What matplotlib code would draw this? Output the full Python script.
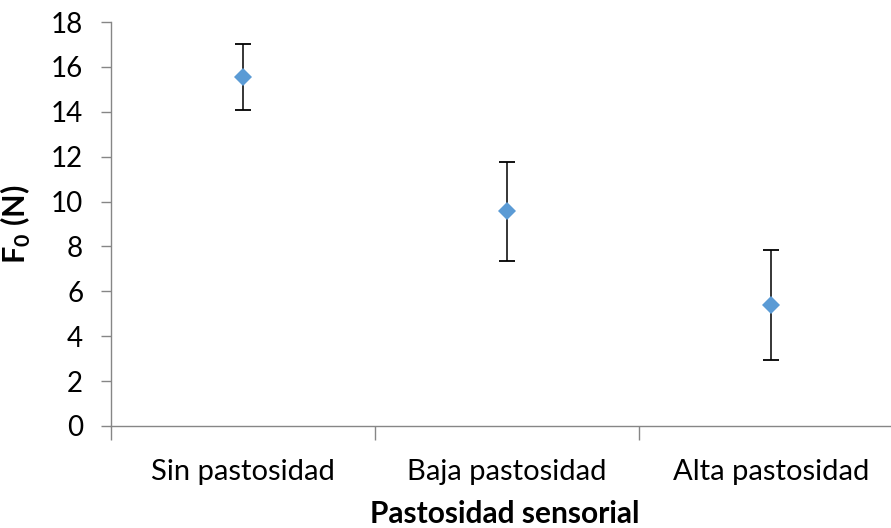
import matplotlib
matplotlib.use("Agg")
import matplotlib.pyplot as plt

plt.rcParams["font.family"] = ["Lato", "DejaVu Sans"]
plt.rcParams["mathtext.fontset"] = "custom"
plt.rcParams["mathtext.rm"] = "Lato:weight=bold"
plt.rcParams["mathtext.bf"] = "Lato:weight=bold"

categories = ["Sin pastosidad", "Baja pastosidad", "Alta pastosidad"]
f0_mean = [15.55, 9.57, 5.37]
f0_err = [1.45, 2.2, 2.45]
y_ticks = [0, 2, 4, 6, 8, 10, 12, 14, 16, 18]

AXIS_GREY = "#868686"
MARKER_BLUE = "#5B9BD5"

fig = plt.figure(figsize=(8.91, 5.28), dpi=100)
# right edge of the category axis runs past the picture, as in the source
ax = fig.add_axes([111 / 891, 102 / 528, 792 / 891, 404 / 528])

x = list(range(len(categories)))
markers, caps, bars = ax.errorbar(x, f0_mean, yerr=f0_err, fmt="D",
                                  color=MARKER_BLUE, markersize=9,
                                  ecolor="black", elinewidth=1.1,
                                  capsize=6, capthick=1.3, zorder=3)
markers.set_markeredgewidth(0)
markers.set_zorder(4)

ax.set_xlim(-0.5, len(categories) - 0.5)
ax.set_ylim(0, 18)
ax.set_yticks(y_ticks)
ax.tick_params(axis="y", labelsize=20, length=7, width=1, color=AXIS_GREY,
               direction="out", pad=13)

# categories centered between boundary ticks
ax.set_xticks([i - 0.5 for i in range(len(categories))])
ax.set_xticklabels([])
ax.set_xticks(x, minor=True)
ax.set_xticklabels(categories, minor=True, fontsize=21)
ax.tick_params(axis="x", which="major", length=10, width=1, color=AXIS_GREY)
ax.tick_params(axis="x", which="minor", length=0, pad=24)

for side in ("top", "right"):
    ax.spines[side].set_visible(False)
for side in ("left", "bottom"):
    ax.spines[side].set_color(AXIS_GREY)
    ax.spines[side].set_linewidth(1)

ax.set_xlabel("Pastosidad sensorial", fontsize=21.5, fontweight="bold")
ax.set_ylabel(r"F$_0$ (N)", fontsize=22, fontweight="bold")
ax.xaxis.set_label_coords((505 - 111) / 792, -0.182)
ax.yaxis.set_label_coords(-0.098, 0.5)

fig.savefig("out.png", dpi=100)
